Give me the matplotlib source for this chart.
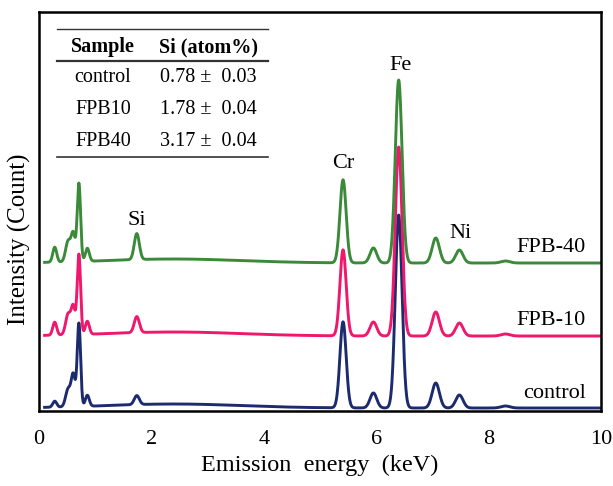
import numpy as np
import matplotlib
matplotlib.use('Agg')
import matplotlib.pyplot as plt

plt.rcParams['font.family'] = ['Liberation Serif', 'DejaVu Serif']

# peak positions (keV), widths (keV) and heights above baseline per sample
peak_energy = [0.28, 0.52, 0.61, 0.71, 0.86, 1.74, 2.40, 5.41, 5.95, 6.40, 7.06, 7.48, 8.30]
peak_sigma = [0.035, 0.045, 0.035, 0.03, 0.035, 0.045, 1.2, 0.055, 0.06, 0.06, 0.065, 0.065, 0.08]
samples = ['control', 'FPB-10', 'FPB-40']
heights = {
    'control': [6, 18, 31, 83, 11, 9, 4, 86, 15, 193, 25, 13, 2],
    'FPB-10': [13, 21, 27, 80, 13, 16, 4, 86, 14, 189, 24, 13, 2],
    'FPB-40': [15, 21, 27, 78, 13, 26, 4, 83, 15, 183, 25, 13, 2],
}
baseline = {'control': 3, 'FPB-10': 75, 'FPB-40': 148}
colors = {'control': '#1c2a6e', 'FPB-10': '#f0186c', 'FPB-40': '#3a8a3a'}

# Si content table
table_samples = ['control', 'FPB10', 'FPB40']
si_mean = [0.78, 1.78, 3.17]
si_err = [0.03, 0.04, 0.04]

peak_labels = ['Si', 'Cr', 'Fe', 'Ni']
peak_label_pos = [(1.74, 191), (5.42, 248), (6.43, 346), (7.50, 178)]


def spectrum(x, h):
    y = np.zeros_like(x)
    for e, s, a in zip(peak_energy, peak_sigma, h):
        y += a * np.exp(-0.5 * ((x - e) / s) ** 2)
    return y


fig = plt.figure(figsize=(6.13, 4.86), dpi=100)
ax = fig.add_axes([39 / 613, 75 / 486, 562 / 613, 399 / 486])

x = np.linspace(0.1, 10, 2000)
for name in samples:
    ax.plot(x, spectrum(x, heights[name]) + baseline[name], color=colors[name], lw=2.1)

ax.set_xlim(0, 10)
ax.set_ylim(0, 399)
ax.set_xticks([0, 2, 4, 6, 8, 10])
ax.set_yticks([])
ax.tick_params(axis='x', length=0, pad=14, labelsize=16)
for sp in ax.spines.values():
    sp.set_linewidth(1.8)
ax.set_xlabel('Emission  energy  (keV)', fontsize=17.5, labelpad=4)
ax.set_ylabel('Intensity (Count)', fontsize=18)
ax.yaxis.set_label_coords(-0.014, 0.43)

for lab, (px, py) in zip(peak_labels, peak_label_pos):
    ax.text(px, py, lab, fontsize=16, ha='center', va='center')

for name, yy in zip(['FPB-40', 'FPB-10', 'control'], [164, 91, 18]):
    ax.text(9.73, yy, name, fontsize=16, ha='right', va='center')

# inset table
tr = ax.transAxes
for yl, lw in [(0.957, 1.0), (0.877, 1.6), (0.637, 1.2)]:
    ax.plot([0.032, 0.407], [yl, yl], color='#333333', lw=lw, transform=tr)
ax.text(0.114, 0.912, 'Sample', fontsize=14.5, fontweight='bold', ha='center', va='center', transform=tr)
ax.text(0.301, 0.912, 'Si (atom%)', fontsize=14.5, fontweight='bold', ha='center', va='center', transform=tr)
for i, (s, m, e) in enumerate(zip(table_samples, si_mean, si_err)):
    yy = 0.835 - i * 0.08
    ax.text(0.114, yy, s, fontsize=14.5, ha='center', va='center', transform=tr)
    ax.text(0.301, yy, f'{m:.2f} \u00b1  {e:.2f}', fontsize=14.5, ha='center', va='center', transform=tr)

fig.savefig('out.png', dpi=100)
